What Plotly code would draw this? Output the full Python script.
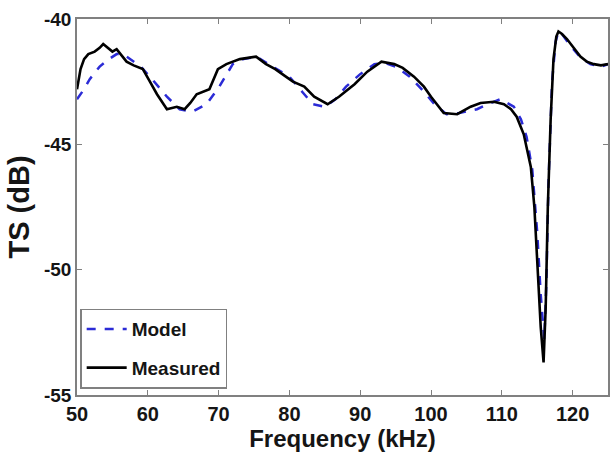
import plotly.graph_objects as go

meas_f = [50, 50.5, 51, 51.6, 52.5, 53.2, 53.7, 54.5, 55, 55.6, 56.3, 57, 58, 59.3, 60.3, 61.3, 62.7, 64.1, 65.2, 66,
          66.9, 68.7, 69.9, 71.1, 73, 75.3, 76.7, 78, 79, 80.5, 82.1, 83.5, 85.4, 87, 89.2, 91, 93, 94.8, 96, 97.6,
          99, 100, 101.8, 103.7, 105.6, 107, 108.9, 110.3, 111.3, 112.1, 113.1, 114.1, 114.6, 115, 115.5, 115.9,
          116.2, 116.5, 116.9, 117.3, 117.7, 118, 118.5, 119.2, 120, 121.1, 122, 123, 124, 125]
meas_ts = [-42.8, -42.0, -41.6, -41.4, -41.3, -41.15, -41.0, -41.2, -41.3, -41.2, -41.45, -41.7, -41.85, -42.0,
           -42.5, -43.0, -43.6, -43.5, -43.6, -43.35, -43.0, -42.8, -42.0, -41.8, -41.6, -41.5, -41.8, -42.0, -42.2,
           -42.5, -42.7, -43.1, -43.4, -43.1, -42.6, -42.1, -41.7, -41.8, -41.95, -42.3, -42.7, -43.1, -43.75, -43.8,
           -43.5, -43.35, -43.3, -43.4, -43.6, -43.9, -44.6, -45.9, -47.5, -49.5, -52.3, -53.7, -51.5, -47.5, -44.0,
           -41.6, -40.7, -40.5, -40.6, -40.8, -41.1, -41.5, -41.7, -41.8, -41.85, -41.8]

model_f = [50, 51, 51.8, 53.2, 54.5, 55.6, 56.5, 57.5, 59, 60.3, 61.5, 62.7, 64.5, 66.3, 68.3, 70.1, 72, 73.5, 75.3,
           77.6, 80, 81.8, 83.3, 85, 86.5, 88, 90, 92, 93.5, 95, 97, 99, 100.5, 102.2, 104, 106.5, 108, 109.8, 111.7,
           112.7, 113.5, 114.3, 115, 115.5, 116, 116.3, 116.6, 117.1, 117.6, 118, 118.5, 119.5, 121, 122.5, 124, 125]
model_ts = [-43.2, -42.8, -42.4, -41.9, -41.6, -41.4, -41.4, -41.6, -41.9, -42.3, -42.7, -43.1, -43.6, -43.7, -43.4,
            -42.7, -41.8, -41.6, -41.5, -41.9, -42.3, -42.9, -43.4, -43.5, -43.2, -42.7, -42.2, -41.8, -41.75, -41.9,
            -42.3, -42.9, -43.4, -43.8, -43.75, -43.6, -43.4, -43.2, -43.5, -44.0, -44.7, -46.0, -48.5, -51.0, -52.8,
            -50.5, -46.5, -42.5, -40.9, -40.5, -40.6, -41.0, -41.5, -41.8, -41.9, -41.8]

x_ticks = [50, 60, 70, 80, 90, 100, 110, 120]
y_ticks = [-55, -50, -45, -40]

FONT = "Liberation Sans, Arial, sans-serif"
TXT = "#151515"

fig = go.Figure()
fig.add_trace(go.Scatter(x=model_f, y=model_ts, mode="lines", name="<b>Model</b>", legendgroup="a",
                         line=dict(color="#2b2bd6", width=2.5, dash="dash")))
fig.add_trace(go.Scatter(x=meas_f, y=meas_ts, mode="lines", name="<b>Measured</b>", legendgroup="b",
                         line=dict(color="#000000", width=2.6)))

axis_common = dict(showline=True, linecolor="#808080", linewidth=1.5, mirror="ticks", ticks="inside",
                   ticklen=5, tickcolor="#808080", showgrid=False, zeroline=False, automargin=False)

fig.update_xaxes(range=[50, 125], tickvals=x_ticks, ticktext=[f"<b>{v}</b>" for v in x_ticks],
                 tickfont=dict(family=FONT, size=20, color=TXT),
                 title=dict(text="<b>Frequency (kHz)</b>", font=dict(family=FONT, size=24, color=TXT),
                            standoff=4), **axis_common)
fig.update_yaxes(range=[-55, -40], tickvals=y_ticks, ticktext=[f"<b>{v}</b>" for v in y_ticks],
                 tickfont=dict(family=FONT, size=19, color=TXT),
                 title=dict(text="<b>TS (dB)</b>", font=dict(family=FONT, size=29, color=TXT),
                            standoff=6), **axis_common)

fig.update_layout(
    width=610, height=465,
    margin=dict(l=77, r=2, t=19, b=70),
    plot_bgcolor="white", paper_bgcolor="white",
    showlegend=True,
    legend=dict(x=0.006, y=0.017, xanchor="left", yanchor="bottom",
                bordercolor="#808080", borderwidth=1.5, bgcolor="white",
                font=dict(family=FONT, size=19, color=TXT),
                itemwidth=40, tracegroupgap=11),
)

fig.write_html("out.html", config={"displayModeBar": False},
               post_script="document.body.style.margin='0px';")
